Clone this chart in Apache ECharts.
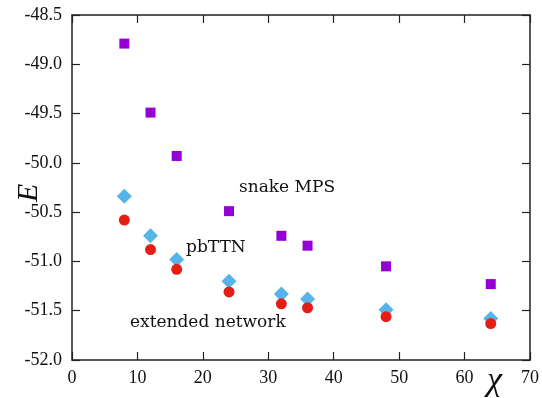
<!DOCTYPE html>
<html><head><meta charset="utf-8">
<script src="https://cdn.jsdelivr.net/npm/echarts@6/dist/echarts.min.js"></script>
<style>html,body{margin:0;padding:0;background:#fff}#c{width:542px;height:398px}</style>
</head><body><div id="c"></div>
<script>
const chi = [8, 12, 16, 24, 32, 36, 48, 64];
const snakeMPS = [-48.79, -49.49, -49.93, -50.49, -50.74, -50.84, -51.05, -51.23];
const pbTTN = [-50.34, -50.74, -50.98, -51.20, -51.33, -51.38, -51.49, -51.58];
const extendedNetwork = [-50.58, -50.88, -51.08, -51.31, -51.43, -51.47, -51.56, -51.63];
const xTicks = [0, 10, 20, 30, 40, 50, 60, 70];
const yTicks = [-52.0, -51.5, -51.0, -50.5, -50.0, -49.5, -49.0, -48.5];

const font = 'Liberation Serif';
const pair = arr => chi.map((x, i) => [x, arr[i]]);
const chart = echarts.init(document.getElementById('c'), null, {renderer: 'canvas'});
const axisCommon = {
  axisLine: {show: true, onZero: false, lineStyle: {color: '#222', width: 1.5}},
  axisTick: {show: true, inside: true, length: 8, lineStyle: {color: '#222', width: 1.2}},
  splitLine: {show: false}
};
chart.setOption({
  animation: false,
  grid: {left: 72, top: 15, right: 10, bottom: 38},
  xAxis: [
    Object.assign({type: 'value', min: xTicks[0], max: xTicks[xTicks.length - 1], interval: 10, position: 'bottom',
      axisLabel: {color: '#111', fontFamily: font, fontSize: 18, margin: 9}}, axisCommon),
    Object.assign({type: 'value', min: xTicks[0], max: xTicks[xTicks.length - 1], interval: 10, position: 'top',
      axisLabel: {show: false}}, axisCommon)
  ],
  yAxis: [
    Object.assign({type: 'value', min: yTicks[0], max: yTicks[yTicks.length - 1], interval: 0.5, position: 'left',
      axisLabel: {color: '#111', fontFamily: font, fontSize: 18, margin: 10, formatter: v => v.toFixed(1)}}, axisCommon),
    Object.assign({type: 'value', min: yTicks[0], max: yTicks[yTicks.length - 1], interval: 0.5, position: 'right',
      axisLabel: {show: false}}, axisCommon)
  ],
  series: [
    {name: 'snake MPS', type: 'scatter', symbol: 'rect', symbolSize: 10, data: pair(snakeMPS),
      itemStyle: {color: '#9400d3', opacity: 1}},
    {name: 'pbTTN', type: 'scatter', symbol: 'diamond', symbolSize: [15, 15], data: pair(pbTTN),
      itemStyle: {color: '#56b4e9', opacity: 1}},
    {name: 'extended network', type: 'scatter', symbol: 'circle', symbolSize: 11, data: pair(extendedNetwork),
      itemStyle: {color: '#e41e14', opacity: 1}}
  ],
  graphic: [
    {type: 'text', left: 239, top: 179, style: {text: 'snake MPS', font: '17px "DejaVu Serif"', fill: '#111'}},
    {type: 'text', left: 186, top: 239, style: {text: 'pbTTN', font: '17px "DejaVu Serif"', fill: '#111'}},
    {type: 'text', left: 130, top: 314, style: {text: 'extended network', font: '17px "DejaVu Serif"', fill: '#111'}},
    {type: 'text', x: 14, y: 202, rotation: Math.PI / 2, style: {text: 'E', font: 'italic 30px "Liberation Serif"', fill: '#111'}},
    {type: 'text', left: 487, top: 364, style: {text: 'χ', font: 'italic 34px "Liberation Serif"', fill: '#111'}}
  ]
});
</script></body></html>
